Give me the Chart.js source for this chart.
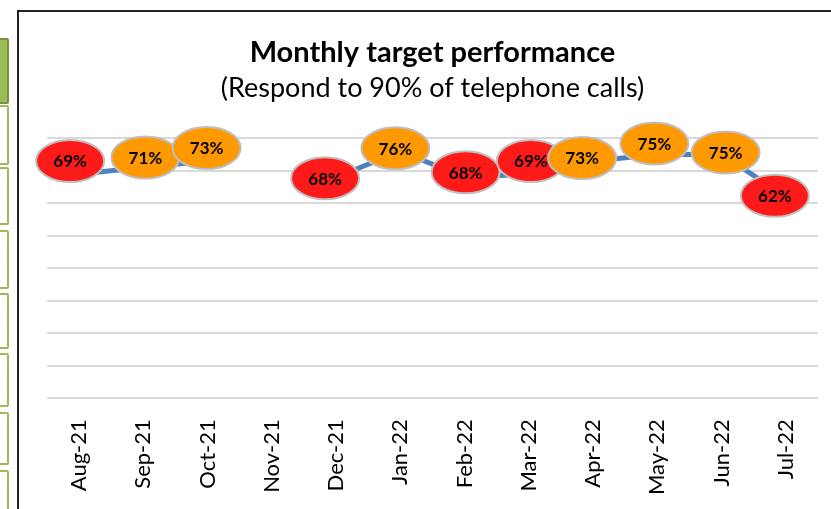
<!DOCTYPE html>
<html>
<head>
<meta charset="utf-8">
<script src="https://cdn.jsdelivr.net/npm/chart.js@4"></script>
<style>
  html, body { margin: 0; padding: 0; background: #fff; overflow: hidden; }
  body { width: 831px; height: 509px; position: relative; }
  .cell { position: absolute; left: -4px; width: 9px; border: 2px solid #9BBB59; border-radius: 2px; background: #fff; }
  .cell.head { background: #9BBB59; border-color: #77933C; }
  #frame { position: absolute; left: 17px; top: 10px; width: 900px; height: 540px;
           border-left: 2px solid #222; border-top: 2px solid #222; }
  #wrap { position: absolute; left: 0; top: 0; width: 826px; height: 508px; }
</style>
</head>
<body>
<div class="cell head" style="top:38px;height:62px"></div>
<div class="cell" style="top:105px;height:56px"></div>
<div class="cell" style="top:167px;height:54px"></div>
<div class="cell" style="top:230px;height:55px"></div>
<div class="cell" style="top:293px;height:52px"></div>
<div class="cell" style="top:353px;height:50px"></div>
<div class="cell" style="top:412px;height:49px"></div>
<div class="cell" style="top:470px;height:60px"></div>
<div id="frame">
  <div id="wrap"><canvas id="chart"></canvas></div>
</div>
<script>
const months = ['Aug-21', 'Sep-21', 'Oct-21', 'Nov-21', 'Dec-21', 'Jan-22',
                'Feb-22', 'Mar-22', 'Apr-22', 'May-22', 'Jun-22', 'Jul-22']
const responseRate = [0.69, 0.71, 0.73, null, 0.68, 0.76, 0.68, 0.69, 0.73, 0.75, 0.75, 0.62]
const redBelow = 0.70

// callouts were nudged by hand in the original, keep that look
const calloutShift = [[-9, -13], [2, -10], [-1, -13], [0, 0], [-11, 1], [-5, -3],
                      [1, -5], [2, -13], [-11, -3], [-3, -11], [4, -2], [-11, -1]]

const callouts = {
  id: 'callouts',
  afterDatasetsDraw(chart) {
    const ctx = chart.ctx
    const meta = chart.getDatasetMeta(0)
    ctx.save()
    meta.data.forEach((pt, i) => {
      const v = responseRate[i]
      if (v === null) return
      const x = pt.x + calloutShift[i][0]
      const y = pt.y + calloutShift[i][1]
      ctx.beginPath()
      ctx.ellipse(x, y, 34, 21, 0, 0, Math.PI * 2)
      ctx.fillStyle = v < redBelow ? '#FF1A1A' : '#FF9900'
      ctx.fill()
      ctx.lineWidth = 2
      ctx.strokeStyle = '#BFBFBF'
      ctx.stroke()
      ctx.fillStyle = '#000'
      ctx.font = 'bold 17px Lato, "Open Sans", sans-serif'
      ctx.textAlign = 'center'
      ctx.textBaseline = 'middle'
      ctx.fillText(Math.round(v * 100) + '%', x, y + 1)
    })
    ctx.restore()
  }
}

new Chart(document.getElementById('chart'), {
  type: 'line',
  data: {
    labels: months,
    datasets: [{
      data: responseRate,
      borderColor: '#4F81BD',
      borderWidth: 5,
      pointRadius: 0,
      spanGaps: false,
      tension: 0
    }]
  },
  options: {
    responsive: true,
    maintainAspectRatio: false,
    animation: false,
    layout: { padding: { left: 28, right: 27, bottom: 4 } },
    plugins: {
      legend: { display: false },
      tooltip: { enabled: false },
      title: {
        display: true,
        text: 'Monthly target performance',
        color: '#000',
        font: { family: 'Lato, "Open Sans", sans-serif', size: 29, weight: 'bold' },
        padding: { top: 23, bottom: 2 }
      },
      subtitle: {
        display: true,
        text: '(Respond to 90% of telephone calls)',
        color: '#000',
        font: { family: 'Lato, "Open Sans", sans-serif', size: 27 },
        padding: { top: 0, bottom: 34 }
      }
    },
    scales: {
      y: {
        min: 0,
        max: 0.8,
        ticks: { display: false, stepSize: 0.1 },
        border: { display: false },
        grid: { color: '#D9D9D9', lineWidth: 2, drawTicks: false }
      },
      x: {
        offset: true,
        border: { display: false },
        grid: { display: false, drawTicks: false },
        ticks: {
          color: '#000',
          minRotation: 90,
          maxRotation: 90,
          padding: 21,
          font: { family: 'Lato, "Open Sans", sans-serif', size: 22 }
        }
      }
    }
  },
  plugins: [callouts]
})
</script>
</body>
</html>
